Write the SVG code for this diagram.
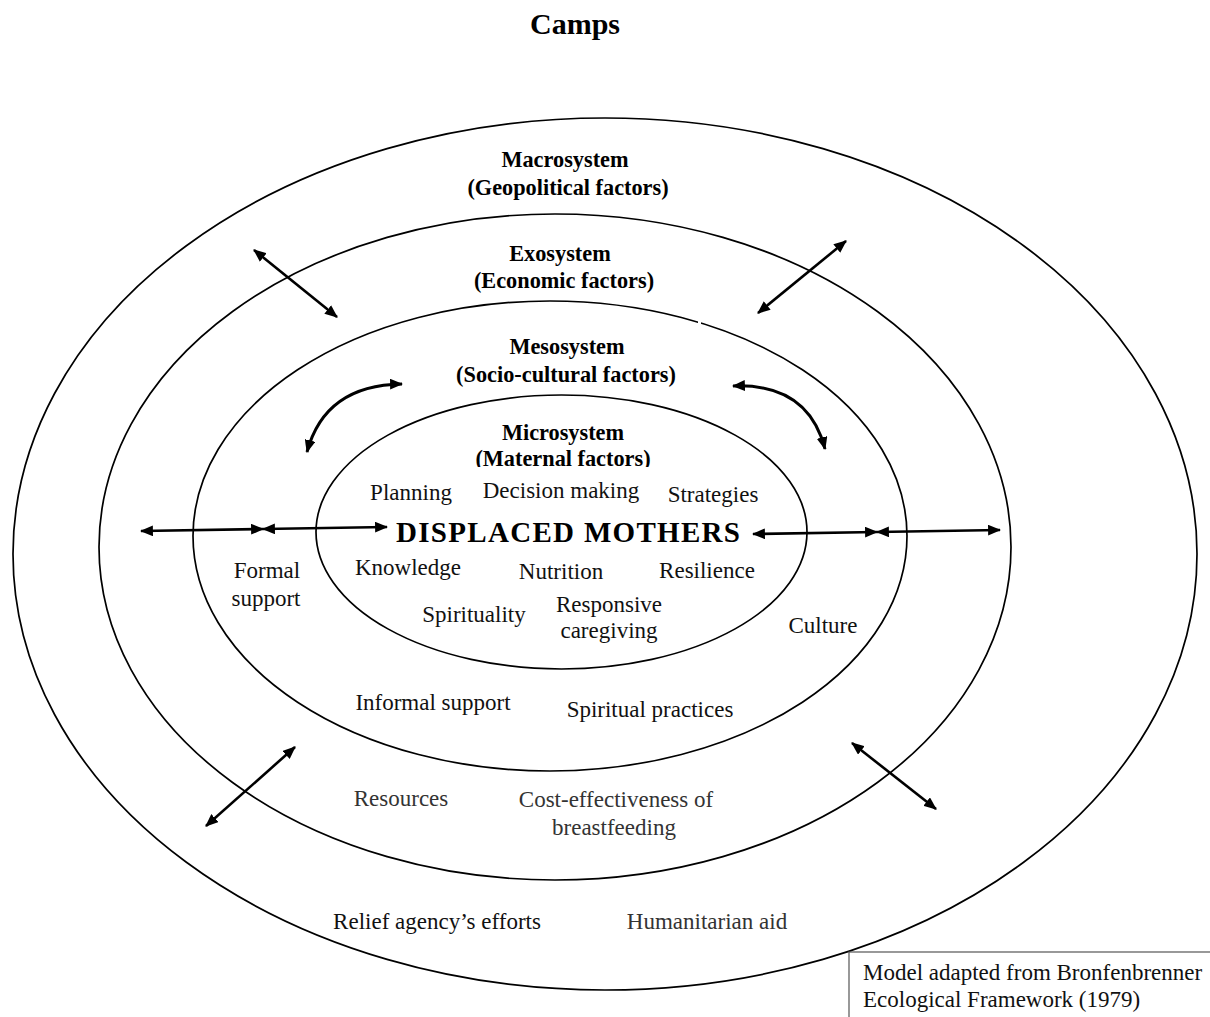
<svg xmlns="http://www.w3.org/2000/svg" width="1210" height="1017" viewBox="0 0 1210 1017">
  <style>
    .ring { fill: none; stroke: #000; stroke-width: 1.7; }
    .t { font-family: "Liberation Serif", "Times New Roman", serif; font-size: 23px; fill: #111; text-anchor: middle; }
    .b { font-weight: bold; fill: #000; font-size: 22.3px; }
    .g { fill: #333; }
    .arr { fill: none; stroke: #000; stroke-width: 2.6; marker-start: url(#head); marker-end: url(#head); }
  </style>
  <defs>
    <marker id="head" viewBox="0 0 12 10" refX="11" refY="5" markerUnits="userSpaceOnUse" markerWidth="13" markerHeight="11" orient="auto-start-reverse">
      <path d="M0,0 L12,5 L0,10 z" fill="#000"/>
    </marker>
    <clipPath id="clipMicroTitle">
      <rect x="400" y="440" width="330" height="27"/>
    </clipPath>
  </defs>

  <rect width="1210" height="1017" fill="#fff"/>

  <text class="t b" x="575" y="34" style="font-size:30px">Camps</text>

  <!-- Nested system rings -->
  <g id="macrosystem">
    <ellipse class="ring" cx="605" cy="554" rx="592" ry="436"/>
    <text class="t b" x="565" y="167">Macrosystem</text>
    <text class="t b" x="568" y="195">(Geopolitical factors)</text>
    <text class="t" x="437" y="929">Relief agency’s efforts</text>
    <text class="t g" x="707" y="929">Humanitarian aid</text>
  </g>

  <g id="exosystem">
    <ellipse class="ring" cx="555" cy="547" rx="456" ry="333"/>
    <text class="t b" x="560" y="261">Exosystem</text>
    <text class="t b" x="564" y="288">(Economic factors)</text>
    <text class="t g" x="401" y="806">Resources</text>
    <text class="t g" x="616" y="807">Cost-effectiveness of</text>
    <text class="t g" x="614" y="835">breastfeeding</text>
  </g>

  <g id="mesosystem">
    <ellipse class="ring" cx="550" cy="536" rx="357" ry="235"/>
    <rect x="698" y="318" width="3" height="6" fill="#fff"/>
    <text class="t b" x="567" y="354">Mesosystem</text>
    <text class="t b" x="566" y="382">(Socio-cultural factors)</text>
    <text class="t" x="267" y="578">Formal</text>
    <text class="t" x="266" y="606">support</text>
    <text class="t" x="823" y="633">Culture</text>
    <text class="t" x="433" y="710">Informal support</text>
    <text class="t" x="650" y="717">Spiritual practices</text>
  </g>

  <g id="microsystem">
    <ellipse class="ring" cx="561.5" cy="532" rx="245.5" ry="137"/>
    <text class="t b" x="563" y="440">Microsystem</text>
    <text class="t b" x="563" y="466" clip-path="url(#clipMicroTitle)">(Maternal factors)</text>
    <text class="t" x="411" y="500">Planning</text>
    <text class="t" x="561" y="498">Decision making</text>
    <text class="t" x="713" y="502">Strategies</text>
    <text class="t" x="408" y="575">Knowledge</text>
    <text class="t" x="561" y="579">Nutrition</text>
    <text class="t" x="707" y="578">Resilience</text>
    <text class="t" x="474" y="622">Spirituality</text>
    <text class="t" x="609" y="612">Responsive</text>
    <text class="t" x="609" y="638">caregiving</text>
  </g>

  <g id="displaced-mothers">
    <text class="t b" x="568" y="542" style="font-size:29px" textLength="344" lengthAdjust="spacing">DISPLACED MOTHERS</text>
  </g>

  <!-- Two-way influences between the rings -->
  <g id="connectors">
    <line class="arr" x1="254" y1="250" x2="337" y2="317"/>
    <line class="arr" x1="846" y1="241" x2="758" y2="313"/>
    <path class="arr" d="M307,452 Q325,385 402,384" style="stroke-width:3"/>
    <path class="arr" d="M733,386 Q808,383 825,449" style="stroke-width:3"/>
    <line class="arr" x1="141" y1="531" x2="263" y2="529"/>
    <line class="arr" x1="263" y1="529" x2="387" y2="527"/>
    <line class="arr" x1="753" y1="534" x2="877" y2="532"/>
    <line class="arr" x1="877" y1="532" x2="1000" y2="530"/>
    <line class="arr" x1="295" y1="747" x2="206" y2="826"/>
    <line class="arr" x1="852" y1="743" x2="936" y2="809"/>
  </g>

  <g id="source-note">
    <rect x="849" y="952" width="370" height="80" fill="#fff" stroke="#555" stroke-width="1.2"/>
    <text class="t" x="863" y="980" style="text-anchor:start">Model adapted from Bronfenbrenner</text>
    <text class="t" x="863" y="1007" style="text-anchor:start">Ecological Framework (1979)</text>
  </g>
</svg>
